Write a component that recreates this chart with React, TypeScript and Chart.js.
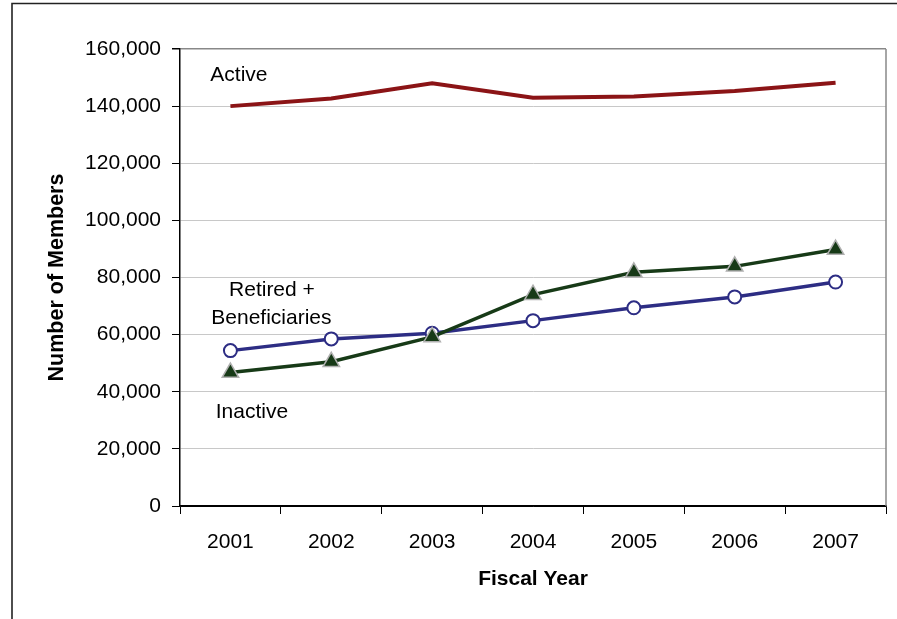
import React, { useEffect, useRef } from "react";
import { Chart, registerables } from "chart.js";

Chart.register(...registerables);

const years = ["2001", "2002", "2003", "2004", "2005", "2006", "2007"];
const active = [140000, 142700, 148000, 142900, 143400, 145300, 148200];
const retired = [54400, 58500, 60500, 64900, 69400, 73200, 78400];
const inactive = [46700, 50500, 59200, 74000, 81800, 83900, 89800];
const yTicks = [0, 20000, 40000, 60000, 80000, 100000, 120000, 140000, 160000];

const FONT = "'Liberation Sans', Arial, sans-serif";

const framePlugin = {
  id: "frame",
  afterDraw(chart: any) {
    const { ctx, chartArea } = chart;
    ctx.save();
    // outer frame (left and top edges)
    ctx.strokeStyle = "#222";
    ctx.lineWidth = 1.6;
    ctx.beginPath();
    ctx.moveTo(12, 619);
    ctx.lineTo(12, 3.5);
    ctx.lineTo(897, 3.5);
    ctx.stroke();
    // plot right border
    ctx.strokeStyle = "#888";
    ctx.lineWidth = 1.5;
    ctx.beginPath();
    ctx.moveTo(chartArea.right, chartArea.top);
    ctx.lineTo(chartArea.right, chartArea.bottom);
    ctx.stroke();
    // series labels
    const xs = chart.scales.x;
    const ys = chart.scales.y;
    ctx.fillStyle = "#000";
    ctx.font = `21px ${FONT}`;
    ctx.textAlign = "center";
    ctx.textBaseline = "middle";
    const x0 = xs.getPixelForValue(0);
    ctx.fillText("Active", x0 + 8.5, ys.getPixelForValue(151000));
    ctx.fillText("Retired +", x0 + 41.5, ys.getPixelForValue(75400));
    ctx.fillText("Beneficiaries", x0 + 41, ys.getPixelForValue(65600));
    ctx.fillText("Inactive", x0 + 21.5, ys.getPixelForValue(33000));
    ctx.restore();
  },
};

export default function App() {
  const ref = useRef<HTMLCanvasElement | null>(null);
  useEffect(() => {
    document.body.style.margin = "0";
    const canvas = ref.current!;
    const chart = new Chart(canvas, {
      type: "line",
      data: {
        labels: years,
        datasets: [
          {
            label: "Active",
            data: active,
            borderColor: "#8B1416",
            borderWidth: 4,
            pointRadius: 0,
            tension: 0,
          },
          {
            label: "Inactive",
            data: inactive,
            borderColor: "#173a17",
            backgroundColor: "#173a17",
            borderWidth: 3.5,
            pointStyle: "triangle",
            pointRadius: 9.5,
            pointBackgroundColor: "#173a17",
            pointBorderColor: "#b0b0b0",
            pointBorderWidth: 1.5,
            tension: 0,
          },
          {
            label: "Retired + Beneficiaries",
            data: retired,
            borderColor: "#2d2d84",
            backgroundColor: "#ffffff",
            borderWidth: 3.5,
            pointStyle: "circle",
            pointRadius: 6.5,
            pointBackgroundColor: "#ffffff",
            pointBorderColor: "#2d2d84",
            pointBorderWidth: 2,
            tension: 0,
          },
        ],
      },
      options: {
        animation: false,
        responsive: false,
        devicePixelRatio: 1,
        layout: { padding: { left: 0, top: 49, right: 9, bottom: 0 } },
        plugins: {
          legend: { display: false },
          tooltip: { enabled: false },
        },
        scales: {
          x: {
            offset: true,
            grid: {
              offset: true,
              drawOnChartArea: false,
              drawTicks: true,
              tickLength: 8,
              tickColor: "#000",
              lineWidth: 1,
            },
            border: { color: "#000", width: 1.5 },
            ticks: {
              color: "#000",
              font: { family: FONT, size: 21 },
              padding: 16,
              maxRotation: 0,
            },
            title: {
              display: true,
              text: "Fiscal Year",
              color: "#000",
              font: { family: FONT, size: 21, weight: "bold" },
              padding: { top: 0, bottom: 27 },
            },
            afterFit: (s: any) => {
              s.height = 113;
            },
          },
          y: {
            min: 0,
            max: 160000,
            afterBuildTicks: (s: any) => {
              s.ticks = yTicks.map((v) => ({ value: v }));
            },
            grid: {
              color: (c: any) =>
                c.tick && c.tick.value === 160000
                  ? "#888"
                  : c.tick && c.tick.value === 0
                  ? "#000"
                  : "#c8c8c8",
              lineWidth: (c: any) => (c.tick && c.tick.value === 160000 ? 1.5 : 1),
              tickColor: "#000",
              tickLength: 8,
              drawTicks: true,
            },
            border: { color: "#000", width: 1.5 },
            ticks: {
              color: "#000",
              font: { family: FONT, size: 21 },
              padding: 11,
              callback: (v: any) => Number(v).toLocaleString("en-US"),
            },
            title: {
              display: true,
              text: "Number of Members",
              color: "#000",
              font: { family: FONT, size: 21.5, weight: "bold" },
              padding: { top: 44, bottom: 0 },
            },
            afterFit: (s: any) => {
              s.width = 180;
            },
          },
        },
      },
      plugins: [framePlugin],
    } as any);
    return () => chart.destroy();
  }, []);
  return (
    <div style={{ position: "absolute", left: 0, top: 0, width: 897, height: 619, background: "#fff" }}>
      <canvas ref={ref} width={897} height={619} style={{ display: "block", width: 897, height: 619 }} />
    </div>
  );
}
